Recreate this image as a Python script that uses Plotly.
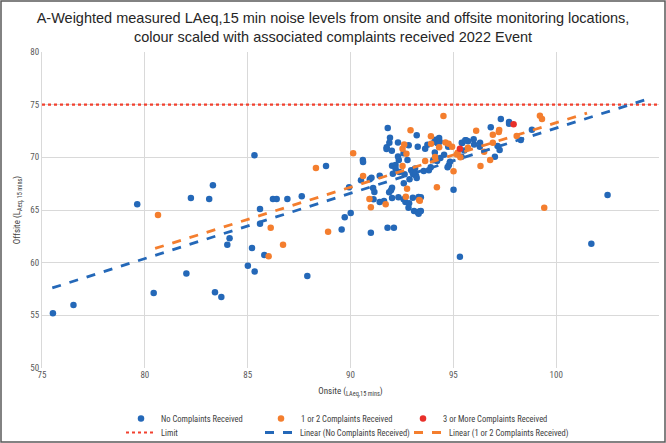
import plotly.graph_objects as go

# ---- data ----
none_x = [75.53, 76.53, 79.63, 80.43, 82.02, 82.24, 83.13, 83.31, 83.41, 83.72, 84.01, 84.12,
          85.01, 85.33, 85.21, 85.34, 85.60, 85.60, 85.81, 86.23, 86.41, 86.93, 87.63, 87.90,
          88.81, 89.57, 89.72, 90.01, 89.93, 90.60, 90.61, 90.51, 90.99,
          90.94, 91.02, 91.10, 91.16, 91.42, 91.12, 91.42, 91.63,
          91.81, 91.92, 91.89, 91.76, 91.75, 92.01, 92.31, 92.02, 92.19, 92.06, 92.19, 91.97,
          92.02, 91.88, 92.02, 92.33, 92.35, 92.38, 92.31, 92.58, 92.83, 92.59, 92.63, 92.77,
          92.95, 92.58, 92.67, 92.82, 93.03, 93.31, 93.09, 93.27, 93.37, 93.31, 93.19, 93.06,
          93.14, 93.22, 93.27, 93.56, 93.63, 93.74, 94.08, 94.15, 94.23, 94.31, 94.34, 94.10,
          93.90, 93.81, 94.02, 94.21, 94.37, 91.80, 92.11, 92.87, 93.22, 93.03, 93.42, 93.42,
          92.85, 94.55, 94.75, 94.78, 94.72, 94.84, 95.01, 95.43, 95.53, 95.40, 95.62, 95.72,
          95.99, 96.01, 96.30, 96.29, 96.82, 97.02, 97.15, 97.25, 97.31, 97.71, 97.71, 98.28,
          98.82, 95.32, 102.50, 101.71, 95.41, 95.58]
none_y = [55.20, 55.97, 65.54, 57.11, 58.98, 66.13, 66.04, 67.34, 57.18, 56.73, 61.70, 62.31,
          59.71, 70.19, 61.39, 59.17, 65.09, 63.70, 60.72, 66.04, 66.04, 66.04, 66.30, 58.73,
          69.17, 63.15, 64.30, 64.71, 67.15, 69.74, 69.55, 67.82, 62.84,
          67.91, 68.06, 67.08, 66.70, 68.25, 66.01, 65.75, 65.85,
          72.78, 71.86, 71.39, 70.95, 70.79, 70.63, 71.42, 69.20, 69.27, 68.44, 68.95, 66.87,
          67.11, 66.68, 66.13, 66.20, 69.74, 68.60, 70.09, 70.38, 71.14, 67.53, 68.39, 69.74,
          68.77, 66.01, 65.75, 65.21, 66.17, 66.23, 64.90, 64.78, 64.87, 64.64, 68.25, 68.39,
          68.95, 72.09, 71.01, 68.70, 70.82, 71.20, 71.48, 71.67, 71.33, 71.83, 71.48, 70.47,
          69.05, 68.77, 69.72, 69.65, 69.93, 63.32, 63.32, 67.91, 68.03, 68.48, 64.90, 66.20,
          65.63, 70.25, 71.01, 69.24, 69.05, 69.58, 66.92, 71.36, 70.66, 70.06, 71.61, 71.52,
          71.71, 71.23, 71.39, 71.01, 72.85, 70.06, 71.07, 70.70, 73.64, 73.35, 73.19, 71.64,
          72.62, 60.56, 66.42, 61.80, 71.39, 71.61]

some_x = [80.64, 86.12, 86.02, 86.72, 88.32, 88.91, 90.13, 90.61, 90.92, 90.99, 91.71, 92.53,
          92.61, 92.72, 92.92, 92.53, 92.75, 93.37, 93.63, 93.91, 93.92, 94.31, 94.62, 94.77,
          94.52, 94.11, 94.20, 94.94, 95.01, 95.17, 95.71, 96.11, 96.32, 96.50, 96.79, 96.92,
          97.21, 97.23, 98.08, 99.21, 99.31, 99.42, 95.21, 95.34, 96.92, 92.69, 93.34]
some_y = [64.52, 63.32, 60.60, 61.70, 68.98, 62.94, 70.38, 68.22, 66.04, 65.25, 65.54, 70.82,
          71.23, 70.35, 72.56, 69.17, 67.02, 65.88, 69.65, 71.99, 71.29, 70.95, 71.42, 71.29,
          73.92, 70.03, 67.15, 71.01, 68.67, 70.28, 70.92, 72.53, 69.17, 70.53, 69.74, 72.15,
          72.40, 72.59, 72.02, 73.95, 73.64, 65.21, 70.44, 70.00, 71.39, 66.26, 65.95]

many_x = [95.32, 97.93]
many_y = [70.82, 73.13]

limit_x = [75, 105]
limit_y = [75, 75]

trend_none_x = [75.5, 104.4]
trend_none_y = [57.6, 75.5]
trend_some_x = [80.5, 101.5]
trend_some_y = [61.35, 74.2]

x_ticks = [75, 80, 85, 90, 95, 100, 105]
y_ticks = [50, 55, 60, 65, 70, 75, 80]

BLUE = "#2468b8"
ORANGE = "#f47e2e"
RED = "#e8302a"
LIMIT_RED = "#f2412f"

W, H = 666, 443
L, R, T, B = 42, 7, 52, 75

fig = go.Figure()

mk = dict(size=6.5, line=dict(width=0))
fig.add_trace(go.Scatter(x=none_x, y=none_y, mode="markers", name="No Complaints Received",
                         marker=dict(color=BLUE, **mk), legend="legend"))
fig.add_trace(go.Scatter(x=some_x, y=some_y, mode="markers", name="1 or 2 Complaints Received",
                         marker=dict(color=ORANGE, **mk), legend="legend2"))
fig.add_trace(go.Scatter(x=many_x, y=many_y, mode="markers", name="3 or More Complaints Received",
                         marker=dict(color=RED, **mk), legend="legend3"))
fig.add_trace(go.Scatter(x=limit_x, y=limit_y, mode="lines", name="Limit",
                         line=dict(color=LIMIT_RED, width=2.2, dash="dot"), legend="legend4"))
fig.add_trace(go.Scatter(x=trend_none_x, y=trend_none_y, mode="lines",
                         name="Linear (No Complaints Received)",
                         line=dict(color=BLUE, width=2.8, dash="dash"), legend="legend5"))
fig.add_trace(go.Scatter(x=trend_some_x, y=trend_some_y, mode="lines",
                         name="Linear (1 or 2 Complaints Received)",
                         line=dict(color=ORANGE, width=2.8, dash="dash"), legend="legend6"))

pw, ph = W - L - R, H - T - B

def px_to_paper_x(px):
    return (px - L) / pw

def py_to_paper_y(py):
    return (H - B - py) / ph

NARROW = "Liberation Sans Narrow, Roboto Condensed, Roboto, Arial"
legend_font = dict(family=NARROW, size=8.5, color="#404040")

def leg(px, py):
    return dict(orientation="h", xref="container", yref="container",
                x=px / W, xanchor="left", y=1 - py / H, yanchor="top",
                itemwidth=30, font=legend_font, bgcolor="rgba(0,0,0,0)")

axis_font = dict(family=NARROW, size=9, color="#595959")

fig.update_layout(
    width=W, height=H,
    showlegend=True,
    margin=dict(l=L, r=R, t=T, b=B, autoexpand=False),
    paper_bgcolor="white", plot_bgcolor="white",
    title=dict(text="A-Weighted measured LAeq,15 min noise levels from onsite and offsite monitoring locations,<br>colour scaled with associated complaints received 2022 Event",
               x=0.5, xref="container", xanchor="center", y=1 - 23 / H, yanchor="top",
               font=dict(family="Liberation Sans, Arial", size=14.5, color="#262626")),
    xaxis=dict(range=[75, 105], tickvals=x_ticks, showgrid=True, gridcolor="#d9d9d9", gridwidth=1,
               zeroline=False, showline=False, ticks="", automargin=False,
               tickfont=axis_font,
               title=dict(text="Onsite (<sub>LAeq,15 mins</sub>)", standoff=8,
                          font=dict(family=NARROW, size=9, color="#404040"))),
    yaxis=dict(range=[50, 80], tickvals=y_ticks, showgrid=True, gridcolor="#d9d9d9", gridwidth=1,
               zeroline=False, showline=True, linecolor="#d9d9d9", ticks="", automargin=False,
               tickfont=axis_font,
               title=dict(text="Offsite (L<sub>Aeq, 15 mins</sub>)", standoff=8,
                          font=dict(family=NARROW, size=9, color="#404040"))),
    legend=leg(121, 404),
    legend2=leg(261, 404),
    legend3=leg(403, 404),
    legend4=leg(121, 418),
    legend5=leg(260, 418),
    legend6=leg(409, 418),
    shapes=[dict(type="rect", xref="paper", yref="paper",
                 x0=px_to_paper_x(1), x1=px_to_paper_x(665), y0=py_to_paper_y(442), y1=py_to_paper_y(1),
                 line=dict(color="#595959", width=1.5), fillcolor="rgba(0,0,0,0)", layer="below")],
)

fig.write_html("out.html", config={"displayModeBar": False},
               post_script="document.body.style.margin='0';document.body.style.padding='0';")
